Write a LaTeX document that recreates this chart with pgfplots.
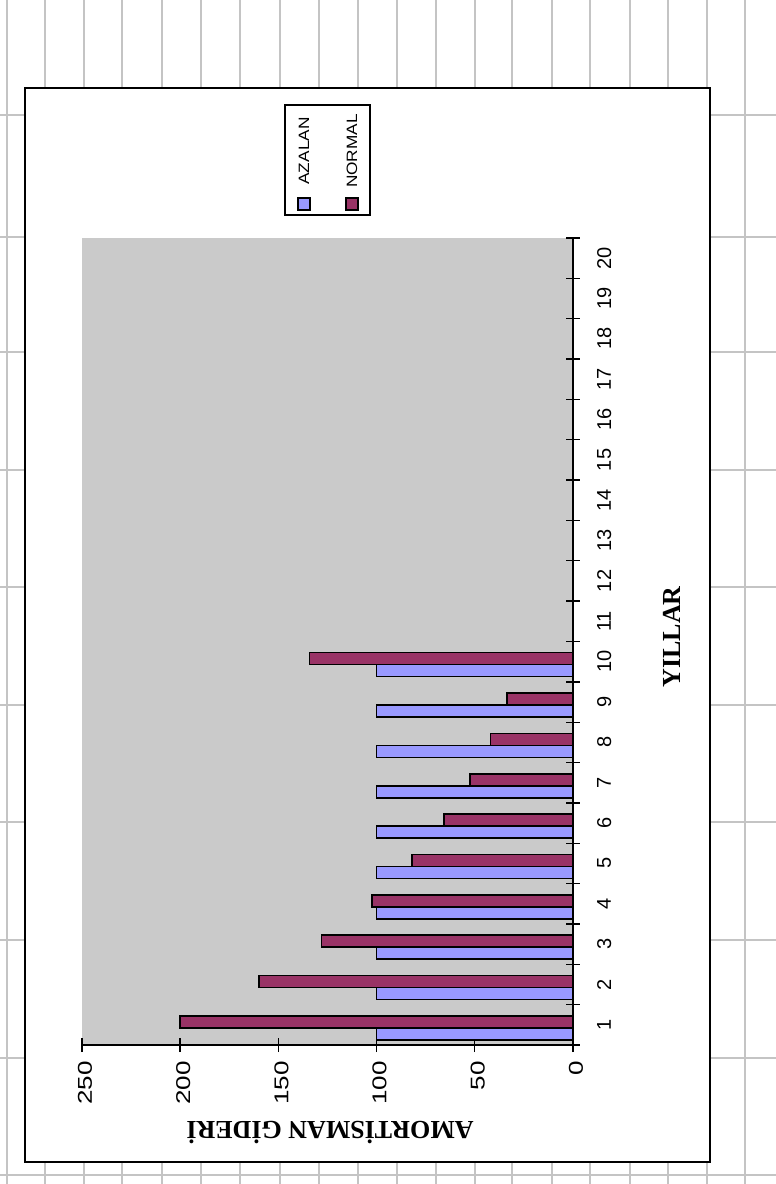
\documentclass[border=0pt]{standalone}
\usepackage{pgfplots}
\pgfplotsset{compat=1.18}
\usepackage{fontspec}
\setmainfont{Liberation Sans}
\newfontfamily\titlefont{Liberation Serif}
\definecolor{azalan}{HTML}{9999FF}
\definecolor{normal}{HTML}{993366}
\definecolor{plotbg}{HTML}{CACACA}
\definecolor{cellgrid}{HTML}{C4C4C4}
\begin{document}
\begin{tikzpicture}[x=0.5pt,y=0.5pt]
\path[use as bounding box, fill=white] (0,0) rectangle (776,1184);
\foreach \gx in {7,45,84,122,162,201,240,280,319,358,397,436,475,512,552,590,630,668,707,745}
  \draw[cellgrid, line width=0.6pt] (\gx,0) -- (\gx,1184);
\foreach \gy in {1069,947,832,714,597,479,362,244,126,9}
  \draw[cellgrid, line width=0.6pt] (0,\gy) -- (776,\gy);
\filldraw[fill=white, draw=black, line width=1.1pt] (25,1096) rectangle (710,22);
\begin{axis}[
  scale only axis, width=245.5pt, height=403.5pt,
  at={(41pt,69.5pt)}, anchor=south west,
  xbar, bar width=6pt,
  x dir=reverse, xmin=0, xmax=250,
  ymin=0.5, ymax=20.5,
  axis x line*=bottom, axis y line*=right,
  axis line style={line width=0.7pt, black, -},
  axis background/.style={fill=plotbg},
  tick align=center, major tick length=7pt,
  tick style={black, line width=0.7pt},
  xtick={0,50,100,150,200,250},
  ytick={0.5,1.5,...,20.5}, yticklabels={},
  extra y ticks={1,2,...,20},
  extra y tick style={tick style={draw=none}, yticklabel style={xshift=5pt, rotate=90, anchor=north, font=\fontsize{10}{12}\selectfont}},
  /pgf/number format/assume math mode=true,
  xticklabel style={xshift=1.5pt, rotate=90, xscale=1.3, anchor=east, font=\fontsize{10}{12}\selectfont},
]
\addplot[fill=azalan, draw=black, line width=0.8pt, bar shift=-4.5pt] coordinates {
 (100,1) (100,2) (100,3) (100,4) (100,5) (100,6) (100,7) (100,8) (100,9) (100,10)};
\addplot[fill=normal, draw=black, line width=0.8pt, bar shift=1.5pt] coordinates {
 (200,1) (160,2) (128,3) (102.4,4) (81.92,5) (65.54,6) (52.43,7) (41.94,8) (33.55,9) (134.22,10)};
\end{axis}
\node[rotate=90, font=\titlefont\bfseries\fontsize{13}{15}\selectfont] at (672,547) {YILLAR};
\node[rotate=180, font=\titlefont\bfseries\fontsize{13}{15}\selectfont] at (330,51) {AMORTİSMAN GİDERİ};
\filldraw[fill=white, draw=black, line width=1.1pt] (285,1079) rectangle (370,969);
\filldraw[fill=azalan, draw=black, line width=0.8pt] (298,974) rectangle (310,986);
\filldraw[fill=normal, draw=black, line width=0.8pt] (346,974) rectangle (358,986);
\node[rotate=90, xscale=1.15, font=\fontsize{7.5}{9}\selectfont] at (304,1033) {AZALAN};
\node[rotate=90, xscale=1.15, font=\fontsize{7.5}{9}\selectfont] at (352,1033) {NORMAL};
\end{tikzpicture}
\end{document}
